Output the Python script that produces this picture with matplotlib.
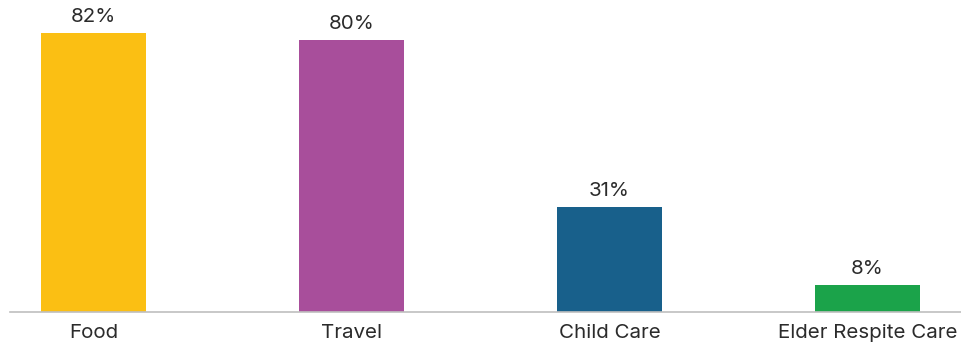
import matplotlib.pyplot as plt

categories = ['Food', 'Travel', 'Child Care', 'Elder Respite Care']
values = [82, 80, 31, 8]
colors = ['#FBBF13', '#A84E9B', '#18608B', '#1BA34A']

plt.rcParams['font.family'] = ['Inter', 'DejaVu Sans']

fig = plt.figure(figsize=(9.61, 3.48), dpi=100)
ax = fig.add_axes([10 / 961, 36 / 348, 951 / 961, 312 / 348])

x = range(len(categories))
bars = ax.bar(x, values, width=0.407, color=colors)

for b, v in zip(bars, values):
    ax.text(b.get_x() + b.get_width() / 2, v + 2.1, f'{v}%', ha='center', va='bottom',
            fontsize=14.8, color='#2b2b2b')

ax.set_xlim(-0.324, 3.362)
ax.set_ylim(0, 91.8)
ax.set_xticks(list(x))
ax.set_xticklabels(categories, fontsize=14.8, color='#2b2b2b')
ax.tick_params(axis='x', length=0, pad=9)
ax.set_yticks([])
for s in ['top', 'right', 'left']:
    ax.spines[s].set_visible(False)
ax.spines['bottom'].set_color('#BFBFBF')
ax.spines['bottom'].set_linewidth(1.2)
ax.patch.set_alpha(0)

fig.savefig('out.png', dpi=100)
